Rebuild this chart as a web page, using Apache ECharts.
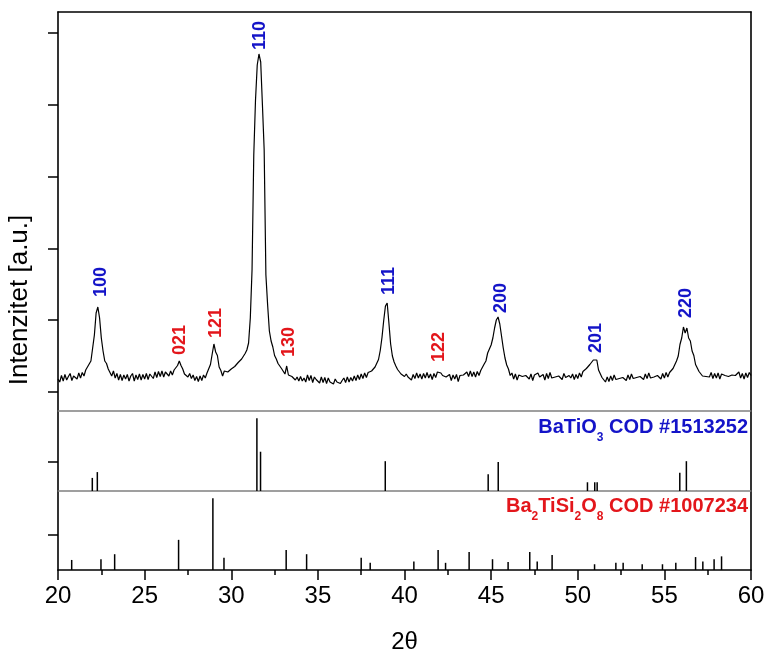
<!DOCTYPE html>
<html>
<head>
<meta charset="utf-8">
<script src="https://cdn.jsdelivr.net/npm/echarts@6/dist/echarts.min.js"></script>
<style>
html,body{margin:0;padding:0;background:#fff;}
#chart{width:769px;height:659px;}
</style>
</head>
<body>
<div id="chart"></div>
<script>
// ---------- DATA ----------
// Measured XRD pattern, 2theta from 20.0 to 60.0 deg in 0.1 deg steps (arbitrary counts)
const scanStart = 20.0;
const scanStep = 0.1;
const intensity = [
  320, 290, 355, 300, 365, 310, 345, 375, 305, 350,
  370, 320, 380, 330, 385, 350, 410, 390, 470, 500,
  630, 760, 980, 1040, 930, 730, 600, 500, 475, 420,
  415, 350, 400, 330, 375, 310, 365, 305, 360, 320,
  365, 300, 350, 375, 300, 360, 315, 370, 310, 365,
  320, 375, 315, 370, 385, 325, 390, 335, 395, 345,
  400, 340, 390, 410, 350, 400, 360, 410, 395, 455,
  500, 455, 420, 370, 365, 340, 375, 325, 360, 305,
  345, 295, 350, 305, 360, 330, 380, 370, 465, 570,
  670, 590, 555, 440, 405, 350, 400, 380, 390, 400,
  420, 425, 445, 450, 485, 490, 520, 530, 575, 610,
  680, 930, 1410, 2560, 3110, 3460, 3570, 3490, 3060, 2610,
  1360, 1060, 800, 700, 640, 555, 520, 475, 455, 425,
  420, 370, 450, 360, 380, 345, 350, 310, 340, 300,
  345, 300, 330, 290, 360, 305, 355, 285, 340, 315,
  330, 280, 340, 285, 335, 275, 330, 290, 300, 270,
  320, 290, 310, 275, 305, 330, 285, 340, 290, 335,
  300, 350, 305, 360, 315, 370, 325, 380, 335, 385,
  380, 400, 405, 440, 455, 515, 605, 735, 905, 1050,
  1080, 880, 670, 550, 490, 450, 415, 400, 370, 370,
  345, 370, 340, 355, 310, 365, 325, 380, 330, 370,
  320, 375, 330, 385, 330, 370, 315, 375, 335, 390,
  370, 380, 355, 360, 340, 345, 365, 305, 360, 320,
  365, 295, 355, 350, 360, 360, 390, 345, 400, 345,
  390, 340, 395, 355, 405, 410, 470, 500, 580, 600,
  660, 730, 830, 910, 940, 870, 750, 630, 530, 460,
  420, 355, 380, 320, 370, 310, 360, 345, 345, 335,
  355, 350, 320, 370, 305, 360, 355, 380, 340, 345,
  365, 310, 375, 325, 385, 330, 345, 340, 355, 350,
  360, 315, 375, 335, 350, 355, 330, 370, 315, 365,
  325, 380, 340, 395, 375, 425, 410, 465, 450, 510,
  525, 510, 410, 405, 335, 340, 290, 340, 295, 350,
  305, 360, 315, 330, 325, 340, 335, 350, 305, 360,
  315, 370, 325, 340, 335, 350, 345, 360, 315, 370,
  325, 380, 330, 345, 340, 355, 355, 365, 320, 375,
  330, 385, 340, 385, 370, 425, 440, 500, 550, 665,
  730, 840, 780, 830, 730, 700, 600, 555, 465, 450,
  395, 385, 350, 355, 345, 350, 340, 385, 325, 375,
  330, 380, 320, 370, 360, 355, 345, 345, 340, 360,
  350, 355, 340, 390, 330, 375, 320, 380, 335, 385,
  355
];

// Peak (hkl) annotations
const hklLabels = ['100', '021', '121', '110', '130', '111', '122', '200', '201', '220'];
const hklPos    = [22.5, 27.05, 29.15, 31.65, 33.35, 39.1, 42.0, 45.55, 51.05, 56.25];
const hklBase   = [1140, 560, 730, 3610, 540, 1160, 490, 980, 580, 930];
const hklPhase  = ['BT', 'BTS', 'BTS', 'BT', 'BTS', 'BT', 'BTS', 'BT', 'BT', 'BT'];

// Reference pattern BaTiO3 COD #1513252 (relative intensity)
const btPos = [21.98, 22.27, 31.48, 31.69, 38.89, 44.83, 45.41, 50.56, 50.98, 51.12, 55.89, 56.27];
const btInt = [18, 26, 100, 54, 41, 23, 40, 12, 12, 12, 25, 41];

// Reference pattern Ba2TiSi2O8 COD #1007234 (relative intensity)
const btsPos = [20.79, 22.48, 23.27, 26.96, 28.94, 29.58, 33.17, 34.35, 37.5, 38.02,
                40.54, 41.94, 42.37, 43.73, 45.08, 45.98, 47.23, 47.66, 48.52, 50.97,
                52.2, 52.62, 53.72, 54.89, 55.66, 56.8, 57.22, 57.87, 58.3];
const btsInt = [14, 15, 22, 42, 100, 17, 28, 22, 17, 10,
                12, 28, 10, 25, 15, 11, 25, 12, 21, 8,
                10, 10, 8, 8, 10, 18, 12, 15, 19];

// Axis ticks
const xTickLabels = [20, 25, 30, 35, 40, 45, 50, 55, 60];
const topTicks = [190, 908, 1626, 2344, 3062, 3780];
const midTicks = [40];
const botTicks = [49];

// ---------- CHART ----------
const FONT = "'Liberation Sans', Arial, sans-serif";
const BLUE = '#1414c8';
const RED = '#e3161b';
const SEP = '#808080';

const curveData = intensity.map((v, i) => [+(scanStart + i * scanStep).toFixed(2), v]);
const labelData = hklLabels.map((t, i) => [hklPos[i], hklBase[i], i]);
const btData = btPos.map((p, i) => [p, btInt[i]]);
const btsData = btsPos.map((p, i) => [p, btsInt[i]]);

const chart = echarts.init(document.getElementById('chart'), null, { renderer: 'canvas' });

const xBase = {
  type: 'value', min: 20, max: 60, interval: 5,
  axisTick: { show: false }, axisLabel: { show: false }, splitLine: { show: false }
};
const lineBlack = { show: true, onZero: false, lineStyle: { color: '#000', width: 1.6 } };
const lineSep = { show: true, onZero: false, lineStyle: { color: SEP, width: 1.5 } };

function yLeft(grid, max, ticks) {
  return {
    type: 'value', gridIndex: grid, position: 'left', min: 0, max: max,
    axisLine: lineBlack,
    axisTick: { show: true, inside: false, length: 10, customValues: ticks, lineStyle: { color: '#000', width: 1.5 } },
    axisLabel: { show: false }, splitLine: { show: false }
  };
}
function yRight(grid, max) {
  return {
    type: 'value', gridIndex: grid, position: 'right', min: 0, max: max,
    axisLine: lineBlack, axisTick: { show: false }, axisLabel: { show: false }, splitLine: { show: false }
  };
}

function stickRender(params, api) {
  const p0 = api.coord([api.value(0), 0]);
  const p1 = api.coord([api.value(0), api.value(1)]);
  return {
    type: 'line',
    shape: { x1: p0[0], y1: p0[1], x2: p1[0], y2: p1[1] },
    style: { stroke: '#000', lineWidth: 1.5 }
  };
}

const option = {
  backgroundColor: '#fff',
  animation: false,
  grid: [
    { left: 58, right: 18, top: 12, height: 399 },
    { left: 58, right: 18, top: 411, height: 80 },
    { left: 58, right: 18, top: 491, height: 79 }
  ],
  xAxis: [
    Object.assign({}, xBase, { gridIndex: 0, position: 'top', axisLine: lineBlack }),
    Object.assign({}, xBase, { gridIndex: 0, position: 'bottom', axisLine: lineSep }),
    Object.assign({}, xBase, { gridIndex: 1, position: 'bottom', axisLine: lineSep }),
    {
      type: 'value', gridIndex: 2, position: 'bottom', min: 20, max: 60, interval: 5,
      axisLine: lineBlack,
      axisTick: { show: true, inside: false, length: 10, lineStyle: { color: '#000', width: 1.5 } },
      minorTick: { show: true, splitNumber: 2, length: 5, lineStyle: { color: '#000', width: 1.5 } },
      axisLabel: {
        show: true, margin: 14, color: '#000', fontSize: 24, fontFamily: FONT,
        customValues: xTickLabels
      },
      splitLine: { show: false },
      name: '2θ', nameLocation: 'middle', nameGap: 60,
      nameTextStyle: { color: '#000', fontSize: 24, fontFamily: FONT }
    }
  ],
  yAxis: [
    yLeft(0, 3990, topTicks), yRight(0, 3990),
    yLeft(1, 110, midTicks), yRight(1, 110),
    yLeft(2, 110, botTicks), yRight(2, 110)
  ],
  series: [
    {
      type: 'line', xAxisIndex: 0, yAxisIndex: 0, data: curveData,
      showSymbol: false, symbol: 'none',
      lineStyle: { color: '#000', width: 1.2 }, z: 3
    },
    {
      type: 'custom', xAxisIndex: 0, yAxisIndex: 0, data: labelData, z: 5,
      renderItem: function (params, api) {
        const i = params.dataIndex;
        const p = api.coord([api.value(0), api.value(1)]);
        return {
          type: 'text', x: p[0], y: p[1], rotation: Math.PI / 2,
          style: {
            text: hklLabels[i], align: 'left', verticalAlign: 'middle',
            fill: hklPhase[i] === 'BT' ? BLUE : RED,
            font: 'bold 18px ' + FONT
          }
        };
      }
    },
    {
      type: 'custom', xAxisIndex: 2, yAxisIndex: 2, data: btData, renderItem: stickRender, z: 3
    },
    {
      type: 'custom', xAxisIndex: 3, yAxisIndex: 4, data: btsData, renderItem: stickRender, z: 3
    }
  ],
  graphic: [
    {
      type: 'text', x: 20, y: 300, rotation: Math.PI / 2,
      style: {
        text: 'Intenzitet [a.u.]', align: 'center', verticalAlign: 'middle',
        fill: '#000', font: '26px ' + FONT
      }
    },
    {
      type: 'text', x: 748, y: 427,
      style: {
        text: '{b|BaTiO}{s|3}{b| COD #1513252}', align: 'right', verticalAlign: 'middle',
        rich: {
          b: { fontSize: 20, fontWeight: 'bold', fontFamily: FONT, fill: BLUE, lineHeight: 34 },
          s: { fontSize: 12, fontWeight: 'bold', fontFamily: FONT, fill: BLUE, lineHeight: 12, verticalAlign: 'bottom' }
        }
      }
    },
    {
      type: 'text', x: 748, y: 506,
      style: {
        text: '{b|Ba}{s|2}{b|TiSi}{s|2}{b|O}{s|8}{b| COD #1007234}', align: 'right', verticalAlign: 'middle',
        rich: {
          b: { fontSize: 20, fontWeight: 'bold', fontFamily: FONT, fill: RED, lineHeight: 34 },
          s: { fontSize: 12, fontWeight: 'bold', fontFamily: FONT, fill: RED, lineHeight: 12, verticalAlign: 'bottom' }
        }
      }
    }
  ]
};

chart.setOption(option);
</script>
</body>
</html>
